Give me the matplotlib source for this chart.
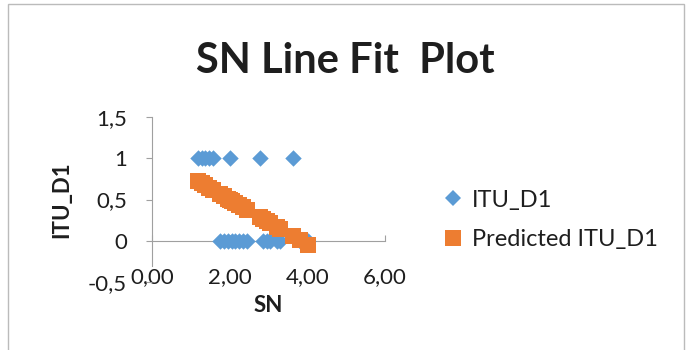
import matplotlib
matplotlib.use("Agg")
import matplotlib.pyplot as plt
from matplotlib.lines import Line2D
from matplotlib.patches import Rectangle

# observed SN values and ITU_D1 (0/1), plus the fitted line values
sn_values = [1.19, 1.28, 1.37, 1.47, 1.57, 1.75, 1.85, 1.96, 2.01, 2.05, 2.14, 2.25,
             2.35, 2.45, 2.78, 2.87, 2.96, 3.05, 3.22, 3.30, 3.63, 3.80, 4.02]
itu_d1 = [1, 1, 1, 1, 1, 0, 0, 0, 1, 0, 0, 0,
          0, 0, 1, 0, 0, 0, 0, 0, 1, 0, 0]
predicted_itu_d1 = [0.720, 0.696, 0.671, 0.644, 0.617, 0.568, 0.540, 0.511, 0.497, 0.486,
                    0.462, 0.432, 0.404, 0.377, 0.288, 0.263, 0.239, 0.214, 0.168, 0.146,
                    0.056, 0.010, -0.050]

x_ticks = [0, 2, 4, 6]
x_tick_labels = ["0,00", "2,00", "4,00", "6,00"]
y_ticks = [-0.5, 0, 0.5, 1, 1.5]
y_tick_labels = ["-0,5", "0", "0,5", "1", "1,5"]

BLUE = "#5B9BD5"
ORANGE = "#ED7D31"
AXIS_GREY = "#A0A0A0"
TEXT = "#1E1E1E"

plt.rcParams["font.family"] = ["Lato", "DejaVu Sans"]

fig = plt.figure(figsize=(6.89, 3.50), dpi=100)
fig.patches.append(Rectangle((8 / 689, -0.1), 676 / 689, 1.09,
                             transform=fig.transFigure, fill=False,
                             edgecolor="#BBBBBB", linewidth=1.0))

ax = fig.add_axes([152 / 689, 68 / 350, 233 / 689, 165 / 350])

ax.scatter(sn_values, itu_d1, marker="D", s=70, color=BLUE, zorder=3, linewidths=0)
ax.scatter(sn_values, predicted_itu_d1, marker="s", s=135, color=ORANGE, zorder=4, linewidths=0)

ax.set_xlim(0, 6)
ax.set_ylim(-0.5, 1.5)

for side in ["top", "right"]:
    ax.spines[side].set_visible(False)
ax.spines["bottom"].set_position(("data", 0))
ax.spines["bottom"].set_color(AXIS_GREY)
ax.spines["left"].set_color(AXIS_GREY)
ax.spines["left"].set_bounds(-0.3, 1.5)

ax.set_xticks(x_ticks)
ax.set_xticklabels(x_tick_labels)
ax.set_yticks(y_ticks)
ax.set_yticklabels(y_tick_labels)
ax.tick_params(axis="x", direction="in", length=4, color=AXIS_GREY, pad=19,
               labelsize=16, labelcolor=TEXT)
ax.tick_params(axis="y", direction="out", length=4, color=AXIS_GREY, pad=14,
               labelsize=16, labelcolor=TEXT)

fig.text(268 / 689, 1 - 305 / 350, "SN", ha="center", va="center",
         fontsize=16, fontweight="bold", color=TEXT)
fig.text(62 / 689, 1 - 200 / 350, "ITU_D1", ha="center", va="center", rotation=90,
         fontsize=16, fontweight="bold", color=TEXT)
fig.text(345 / 689, 1 - 61 / 350, "SN Line Fit  Plot", ha="center", va="center",
         fontsize=30, fontweight="bold", color=TEXT)

handles = [
    Line2D([], [], marker="D", linestyle="none", markersize=8, color=BLUE, markeredgewidth=0),
    Line2D([], [], marker="s", linestyle="none", markersize=11, color=ORANGE, markeredgewidth=0),
]
fig.legend(handles, ["ITU_D1", "Predicted ITU_D1"], loc="center left",
           bbox_to_anchor=(422 / 689, 1 - 220 / 350), frameon=False,
           fontsize=17, handlelength=0.8, handletextpad=0.4, labelspacing=0.8,
           labelcolor=TEXT)

fig.savefig("out.png", dpi=100)
